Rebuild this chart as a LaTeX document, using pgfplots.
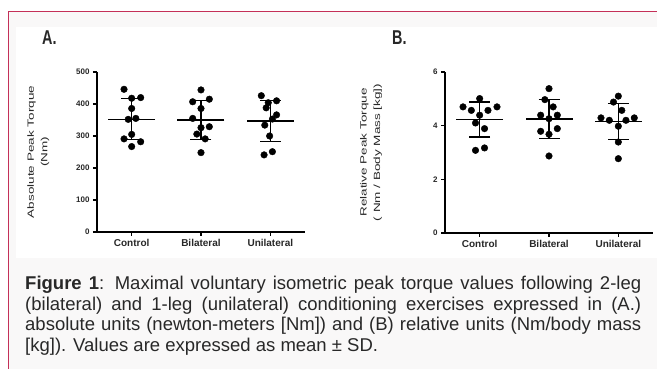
\documentclass[border=0pt]{standalone}
\usepackage{pgfplots}
\pgfplotsset{compat=1.18}
\usepackage{fontspec}
\setmainfont{Liberation Sans}
\newfontfamily\stretchfont[FakeStretch=1.5]{Liberation Sans}
\newfontfamily\titlefont[FakeStretch=0.72]{Liberation Sans}
\definecolor{framecol}{RGB}{196,48,88}
\definecolor{capbg}{RGB}{249,248,248}
\definecolor{txt}{RGB}{40,40,40}

\pgfplotsset{
  panel/.style={
    scale only axis, width=208pt, anchor=south west,
    xmin=0.5, xmax=3.5, ymin=0,
    axis lines=left, axis line style={-, line width=1.2pt, black},
    every outer x axis line/.append style={-},
    every outer y axis line/.append style={-},
    tick align=outside, major tick length=4pt,
    tick style={line width=1.2pt, black},
    /pgf/number format/assume math mode=true,
    xtick={1,2,3}, xticklabels={Control,Bilateral,Unilateral},
    xticklabel style={font=\bfseries\fontsize{10}{10}\selectfont, text=txt},
    yticklabel style={font=\bfseries\fontsize{8}{8}\selectfont, text=txt},
    ylabel style={align=center, font=\stretchfont\fontsize{9}{13.5}\selectfont, text=txt, anchor=center},
    clip=false,
  },
  meansd/.style={only marks, black, mark=-, mark size=23.5pt, mark options={line width=1.6pt},
    error bars/.cd, y dir=both, y explicit,
    error bar style={line width=1.2pt, black},
    error mark=|, error mark options={mark size=10.5pt, line width=1.2pt, black}},
  dots/.style={only marks, black, mark=*, mark size=3.3pt, mark options={fill=black}},
}

\begin{document}
\begin{tikzpicture}[x=1pt,y=1pt]
\path[use as bounding box] (0,0) rectangle (657,369);
\fill[white] (0,0) rectangle (657,369);
\fill[capbg] (8.5,0) rectangle (657,357.5);
\fill[white] (16,111) rectangle (657,342);
\draw[framecol, line width=1.5pt] (8.5,0) -- (8.5,357.5) -- (657,357.5);

\node[anchor=base west, inner sep=0, font=\titlefont\bfseries\fontsize{20}{20}\selectfont, text=txt] at (42,324.5) {A.};
\node[anchor=base west, inner sep=0, font=\titlefont\bfseries\fontsize{20}{20}\selectfont, text=txt] at (392,324.5) {B.};

\begin{axis}[panel, at={(97pt,137pt)}, height=160pt, ymax=500, ytick={0,100,...,500},
  ylabel={Absolute Peak Torque\\(Nm)},
  ylabel style={at={(axis description cs:-0.282,0.5)}}]
\addplot[meansd] coordinates {(1,352) +- (0,64) (2,350) +- (0,61) (3,347) +- (0,65)};
\addplot[dots] coordinates {
 (0.89,446) (1.00,418) (1.13,420) (1.00,386) (0.95,352) (1.06,355)
 (1.00,305) (0.89,291) (1.13,282) (1.00,267)
 (2.00,444) (1.88,407) (2.12,415) (2.00,386) (1.88,355) (2.00,326)
 (2.12,329) (1.94,306) (2.06,291) (2.00,248)
 (2.87,426) (2.97,404) (3.09,410) (2.94,388) (3.09,366) (3.03,353)
 (2.92,334) (2.99,300) (2.91,241) (3.03,251)
};
\end{axis}

\begin{axis}[panel, at={(445pt,136pt)}, height=161pt, ymax=6, ytick={0,2,4,6},
  ylabel={Relative Peak Torque\\( Nm / Body Mass [kg])},
  ylabel style={at={(axis description cs:-0.356,0.5)}}]
\addplot[meansd] coordinates {(1,4.23) +- (0,0.65) (2,4.24) +- (0,0.73) (3,4.16) +- (0,0.67)};
\addplot[dots] coordinates {
 (1.00,5.01) (0.76,4.70) (0.88,4.57) (1.12,4.57) (1.25,4.70) (1.00,4.39)
 (0.94,4.10) (1.07,3.89) (0.94,3.08) (1.07,3.17)
 (2.00,5.38) (1.94,4.97) (2.06,4.70) (1.88,4.39) (2.12,4.39) (2.00,4.26)
 (1.88,3.79) (2.12,3.89) (2.00,3.68) (2.00,2.87)
 (3.00,5.10) (2.93,4.88) (3.05,4.57) (2.75,4.29) (2.87,4.20) (3.11,4.20)
 (3.23,4.29) (3.00,3.98) (3.00,3.39) (3.00,2.77)
};
\end{axis}

\node[anchor=base west, inner sep=0, text=txt] at (25,79) {\parbox[t]{616pt}{\fontsize{18.5}{20.5}\selectfont
\textbf{Figure 1}: Maximal voluntary isometric peak torque values following 2-leg\linebreak
(bilateral) and 1-leg (unilateral) conditioning exercises expressed in (A.)\linebreak
absolute units (newton-meters [Nm]) and (B) relative units (Nm/body mass\linebreak
{[kg])}. Values are expressed as mean ± SD.}};
\end{tikzpicture}
\end{document}
